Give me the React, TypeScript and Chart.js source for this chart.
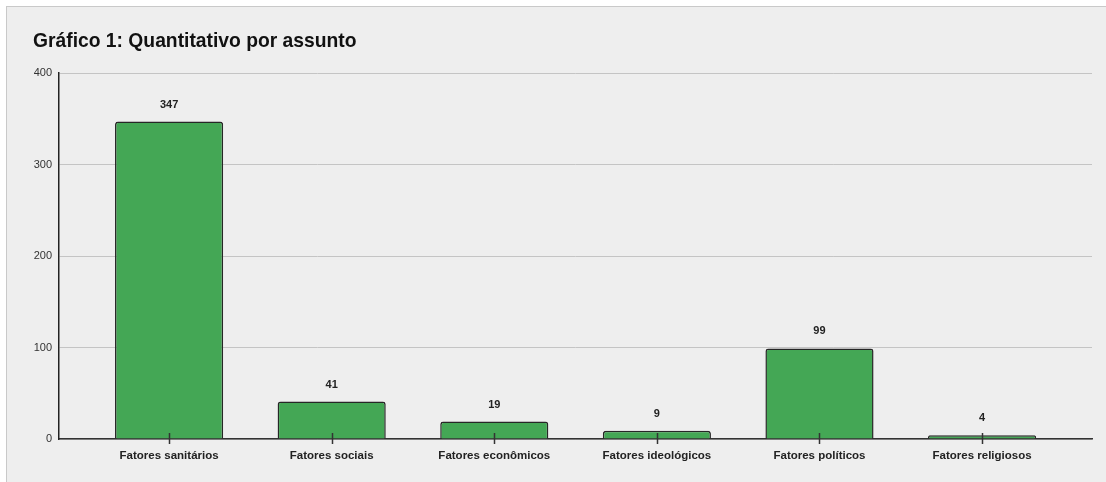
import React, { useEffect, useRef } from "react";
import { Chart, registerables } from "chart.js";

Chart.register(...registerables);

const TITLE = "Gráfico 1: Quantitativo por assunto";
const categories = [
  "Fatores sanitários",
  "Fatores sociais",
  "Fatores econômicos",
  "Fatores ideológicos",
  "Fatores políticos",
  "Fatores religiosos",
];
const counts = [347, 41, 19, 9, 99, 4];
const yTicks = [0, 100, 200, 300, 400];

const FONT = "'Liberation Sans', Arial, Helvetica, sans-serif";

// Draws the title, the value above each bar and the category ticks crossing the axis
const decorations = {
  id: "decorations",
  afterDatasetsDraw(chart: any) {
    const { ctx, chartArea } = chart;
    ctx.save();
    ctx.fillStyle = "#111";
    ctx.font = `bold 19.3px ${FONT}`;
    ctx.textAlign = "left";
    ctx.textBaseline = "middle";
    ctx.fillText(TITLE, 33, 42);

    const meta = chart.getDatasetMeta(0);
    ctx.font = `bold 11px ${FONT}`;
    ctx.textAlign = "center";
    ctx.fillStyle = "#222";
    meta.data.forEach((bar: any, i: number) => {
      ctx.fillText(String(counts[i]), bar.x, bar.y - 17);
    });

    const xScale = chart.scales.x;
    ctx.strokeStyle = "#333";
    ctx.lineWidth = 1.5;
    categories.forEach((_, i) => {
      const x = Math.round(xScale.getPixelForValue(i)) + 0.5;
      ctx.beginPath();
      ctx.moveTo(x, chartArea.bottom - 6);
      ctx.lineTo(x, chartArea.bottom + 5);
      ctx.stroke();
    });
    ctx.restore();
  },
};

export default function App() {
  const ref = useRef<HTMLCanvasElement>(null);

  useEffect(() => {
    document.body.style.margin = "0";
    const chart = new Chart(ref.current!, {
      type: "bar",
      data: {
        datasets: [
          {
            data: counts.map((v, i) => ({ x: i, y: v })),
            backgroundColor: "#44a755",
            borderColor: "#262626",
            borderWidth: 1.5,
            borderSkipped: "bottom",
            borderRadius: { topLeft: 3, topRight: 3, bottomLeft: 0, bottomRight: 0 },
            categoryPercentage: 1,
            barPercentage: 0.665,
          },
        ],
      },
      options: {
        animation: false,
        responsive: false,
        maintainAspectRatio: false,
        layout: { padding: { top: 73, right: 14, bottom: 0, left: 0 } },
        plugins: {
          legend: { display: false },
          title: { display: false },
          tooltip: { enabled: false },
        },
        scales: {
          x: {
            type: "linear",
            min: -0.677,
            max: 5.676,
            offset: false,
            afterBuildTicks(scale: any) {
              scale.ticks = categories.map((_, i) => ({ value: i }));
            },
            grid: { display: false, drawTicks: false },
            border: { display: true, color: "#333", width: 1.5 },
            ticks: {
              padding: 10,
              color: "#222",
              font: { family: FONT, size: 11.5, weight: "bold" },
              maxRotation: 0,
              autoSkip: false,
              callback: (v: any) => categories[Math.round(Number(v))] ?? "",
            },
            afterFit(scale: any) {
              scale.height = 43;
            },
          },
          y: {
            min: 0,
            max: 400,
            afterBuildTicks(scale: any) {
              scale.ticks = yTicks.map((v) => ({ value: v }));
            },
            grid: { color: "#c4c4c4", lineWidth: 1, drawTicks: false },
            border: { display: true, color: "#222", width: 1.5 },
            ticks: {
              padding: 7,
              color: "#333",
              font: { family: FONT, size: 11 },
            },
            afterFit(scale: any) {
              scale.width = 59;
            },
          },
        },
      },
      plugins: [decorations],
    });
    return () => chart.destroy();
  }, []);

  return (
    <div style={{ position: "relative", width: 1106, height: 482, background: "#fff", overflow: "hidden" }}>
      <div
        style={{
          position: "absolute",
          left: 6,
          top: 6,
          right: 0,
          bottom: 0,
          background: "#eeeeee",
          borderTop: "1.5px solid #c9c9c9",
          borderLeft: "1.5px solid #c9c9c9",
        }}
      />
      <canvas
        ref={ref}
        width={1106}
        height={482}
        style={{ position: "absolute", left: 0, top: 0, width: 1106, height: 482 }}
      />
    </div>
  );
}
